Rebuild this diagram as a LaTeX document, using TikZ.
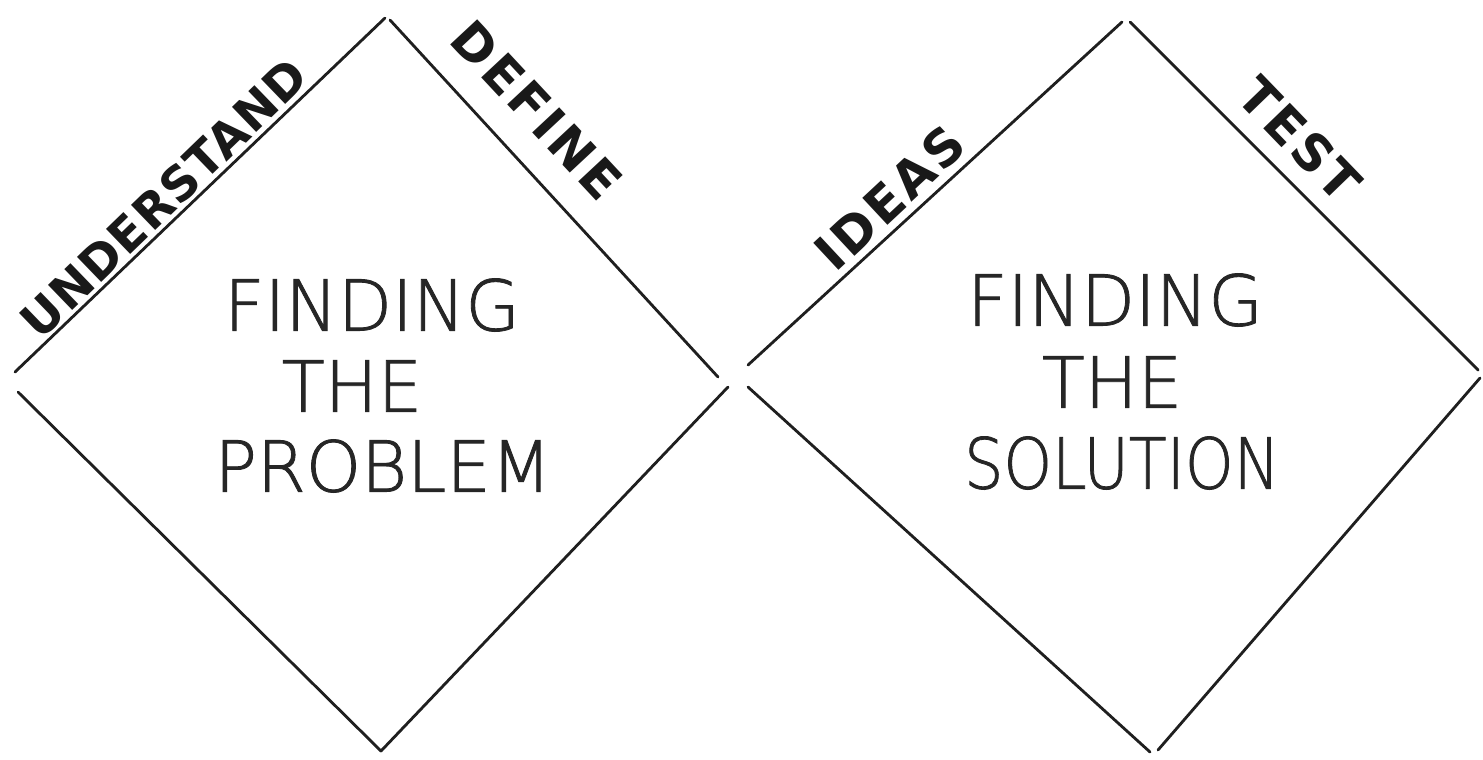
\documentclass[tikz,border=0pt]{standalone}
\usepackage{fontspec}
\setmainfont{DejaVu Sans}
\newfontfamily\handthin[FakeBold=1.2]{DejaVu Sans ExtraLight}
\newfontfamily\handbold[LetterSpace=6]{DejaVu Sans Bold}
\newfontfamily\handboldtight[LetterSpace=2]{DejaVu Sans Bold}
\begin{document}
\begin{tikzpicture}[x=0.025cm,y=-0.025cm,
  edge/.style={line width=2pt, line cap=round, color=black!88},
  inner/.style={font=\handthin\fontsize{50}{54}\selectfont, inner sep=0pt, text=black!85},
  side/.style={font=\handbold\fontsize{36}{40}\selectfont, inner sep=0pt, text=black!90}]
\useasboundingbox[fill=white] (0,0) rectangle (1483,759);

% left diamond: finding the problem
\coordinate (pl1) at (15,372);
\coordinate (pl2) at (18,392);
\coordinate (pt1) at (385,18);
\coordinate (pt2) at (390,20);
\coordinate (pr1) at (718,377);
\coordinate (pr2) at (728,387);
\coordinate (pb) at (381,751);
\draw[edge] (pl1) -- (pt1);
\draw[edge] (pt2) -- (pr1);
\draw[edge] (pl2) -- (pb);
\draw[edge] (pr2) -- (pb);

% right diamond: finding the solution
\coordinate (sl1) at (748,365);
\coordinate (sl2) at (748,387);
\coordinate (st1) at (1122,22);
\coordinate (st2) at (1130,22);
\coordinate (sr1) at (1478,370);
\coordinate (sr2) at (1480,378);
\coordinate (sb1) at (1150,752);
\coordinate (sb2) at (1158,750);
\draw[edge] (sl1) -- (st1);
\draw[edge] (st2) -- (sr1);
\draw[edge] (sl2) -- (sb1);
\draw[edge] (sr2) -- (sb2);

% phase labels along the edges
\node[side, font=\handboldtight\fontsize{34}{38}\selectfont, rotate=44] (understand) at (164,198) {UNDERSTAND};
\node[side, rotate=-47] (define) at (537,110) {DEFINE};
\node[side, rotate=43] (ideas) at (890,198) {IDEAS};
\node[side, rotate=-46] (test) at (1300,139) {TEST};

% diamond titles
\node[inner] (pf) at (372,305) {FINDING};
\node[inner] (pth) at (352,386) {THE};
\node[inner] (pp) at (383,466) {PROBLEM};
\node[inner] (sf) at (1115,300) {FINDING};
\node[inner] (sth) at (1112,382) {THE};
\node[inner, xscale=0.88] (ss) at (1122,463) {SOLUTION};
\end{tikzpicture}
\end{document}
